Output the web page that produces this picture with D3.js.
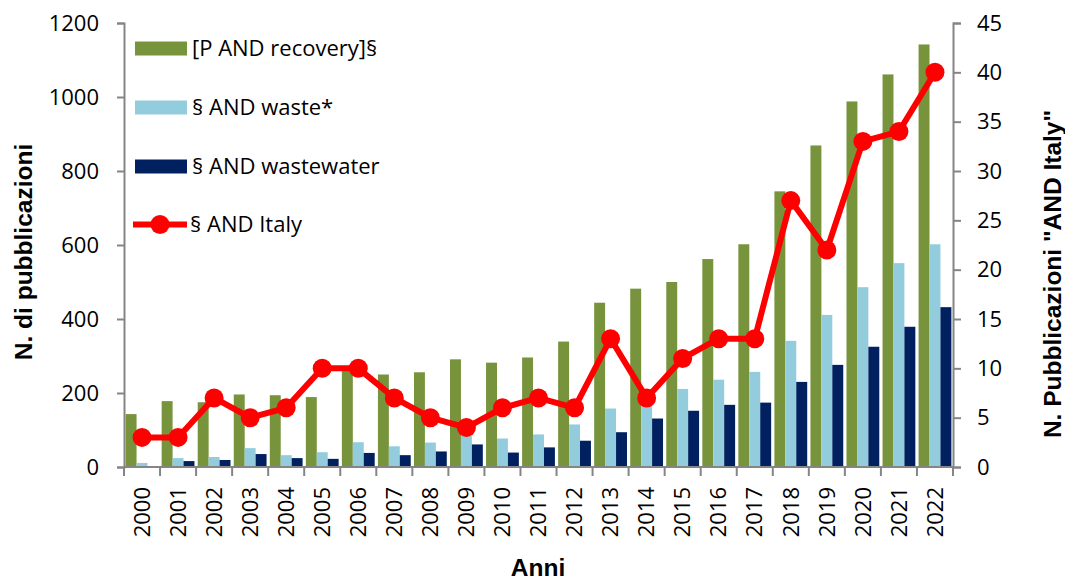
<!DOCTYPE html>
<html>
  <head>
    <meta charset="utf-8">
    <title>Pubblicazioni</title>
    <script src="https://d3js.org/d3.v7.min.js"></script>
    <style>
      body { margin: 0; background: #fff; }
      svg { font-family: "Open Sans", sans-serif; }
      .title { font-family: "Liberation Sans", Arial, sans-serif; font-weight: bold; font-size: 24.5px; }
    </style>
  </head>
  <body>
    <svg id="chart" width="1065" height="582"></svg>
    <script>
      // data
      var years = ["2000","2001","2002","2003","2004","2005","2006","2007","2008","2009","2010","2011",
                   "2012","2013","2014","2015","2016","2017","2018","2019","2020","2021","2022"];
      var recovery   = [143, 178, 175, 196, 194, 189, 262, 250, 256, 291, 282, 296, 339, 444, 482, 500, 562, 602, 745, 869, 988, 1061, 1142];
      var waste      = [11, 24, 27, 51, 32, 40, 67, 56, 66, 84, 77, 88, 115, 158, 172, 211, 236, 257, 341, 411, 486, 551, 602];
      var wastewater = [0, 16, 19, 35, 24, 22, 38, 32, 42, 61, 39, 53, 71, 94, 131, 152, 168, 174, 230, 276, 325, 379, 432];
      var italy      = [3, 3, 7, 5, 6, 10, 10, 7, 5, 4, 6, 7, 6, 13, 7, 11, 13, 13, 27, 22, 33, 34, 40];
      var seriesNames = ["[P AND recovery]§", "§ AND waste*", "§ AND wastewater", "§ AND Italy"];
      var colors = ["#77933c", "#93cddd", "#002060", "#ff0000"];

      var svg = d3.select("#chart");
      var pLeft = 124, pRight = 953, pTop = 23, pBottom = 467;
      var axisColor = "#858585";

      var x = d3.scaleBand().domain(years).range([pLeft, pRight]).paddingInner(0.09).paddingOuter(0.045);
      var x1 = d3.scaleBand().domain([0, 1, 2]).range([0, x.bandwidth()]);
      var y = d3.scaleLinear().domain([0, 1200]).range([pBottom, pTop]);
      var y2 = d3.scaleLinear().domain([0, 45]).range([pBottom, pTop]);

      var bars = [recovery, waste, wastewater];
      var g = svg.append("g");
      bars.forEach(function(vals, s) {
        g.selectAll("rect.s" + s)
          .data(vals)
          .join("rect")
          .attr("class", "s" + s)
          .attr("x", function(d, i) { return x(years[i]) + x1(s); })
          .attr("y", function(d) { return y(d); })
          .attr("width", x1.bandwidth())
          .attr("height", function(d) { return y(0) - y(d); })
          .attr("fill", colors[s]);
      });

      // axes
      var yAxis = svg.append("g")
        .attr("transform", "translate(" + pLeft + ",0)")
        .call(d3.axisLeft(y).tickValues(d3.range(0, 1201, 200)).tickFormat(d3.format("d"))
          .tickSize(7).tickPadding(18).tickSizeOuter(7));
      var yAxis2 = svg.append("g")
        .attr("transform", "translate(" + pRight + ",0)")
        .call(d3.axisRight(y2).tickValues(d3.range(0, 46, 5)).tickFormat(d3.format("d"))
          .tickSize(8).tickPadding(16).tickSizeOuter(8));
      [yAxis, yAxis2].forEach(function(a) {
        a.selectAll("text").attr("font-size", "22px").attr("font-family", "Open Sans").attr("fill", "#000");
        a.selectAll("line").attr("stroke", axisColor).attr("stroke-width", 2);
        a.select(".domain").attr("stroke", axisColor).attr("stroke-width", 2);
      });

      // x axis with ticks between categories
      var xg = svg.append("g");
      xg.append("line")
        .attr("x1", pLeft).attr("x2", pRight).attr("y1", pBottom).attr("y2", pBottom)
        .attr("stroke", axisColor).attr("stroke-width", 2);
      var step = x.step();
      xg.selectAll("line.tk")
        .data(d3.range(years.length + 1))
        .join("line")
        .attr("class", "tk")
        .attr("x1", function(i) { return pLeft + i * step; })
        .attr("x2", function(i) { return pLeft + i * step; })
        .attr("y1", pBottom).attr("y2", pBottom + 9)
        .attr("stroke", axisColor).attr("stroke-width", 2);
      xg.selectAll("text")
        .data(years)
        .join("text")
        .attr("transform", function(d) { return "translate(" + (x(d) + x.bandwidth() / 2) + "," + (pBottom + 20) + ") rotate(-90)"; })
        .attr("text-anchor", "end")
        .attr("dy", "0.35em")
        .attr("font-size", "22px")
        .text(function(d) { return d; });

      // line series on secondary axis
      var line = d3.line()
        .x(function(d, i) { return x(years[i]) + x.bandwidth() / 2; })
        .y(function(d) { return y2(d); });
      svg.append("path")
        .datum(italy)
        .attr("d", line)
        .attr("fill", "none")
        .attr("stroke", colors[3])
        .attr("stroke-width", 6)
        .attr("stroke-linejoin", "round");
      svg.selectAll("circle.pt")
        .data(italy)
        .join("circle")
        .attr("class", "pt")
        .attr("cx", function(d, i) { return x(years[i]) + x.bandwidth() / 2; })
        .attr("cy", function(d) { return y2(d); })
        .attr("r", 9.5)
        .attr("fill", colors[3]);

      // legend
      var lg = svg.append("g");
      var legY = [48.5, 107.5, 166.5, 224.5];
      [0, 1, 2].forEach(function(s) {
        lg.append("rect")
          .attr("x", 135).attr("y", legY[s] - 7)
          .attr("width", 52).attr("height", 14)
          .attr("fill", colors[s]);
      });
      lg.append("line")
        .attr("x1", 133).attr("x2", 187).attr("y1", legY[3]).attr("y2", legY[3])
        .attr("stroke", colors[3]).attr("stroke-width", 6);
      lg.append("circle").attr("cx", 160).attr("cy", legY[3]).attr("r", 9.5).attr("fill", colors[3]);
      lg.selectAll("text")
        .data(seriesNames)
        .join("text")
        .attr("x", function(d, i) { return i == 3 ? 190 : 192; })
        .attr("y", function(d, i) { return legY[i]; })
        .attr("dy", "0.35em")
        .attr("font-size", "22px")
        .text(function(d) { return d; });

      // axis titles
      svg.append("text").attr("class", "title")
        .attr("transform", "translate(32,252) rotate(-90)")
        .attr("text-anchor", "middle")
        .text("N. di pubblicazioni");
      svg.append("text").attr("class", "title")
        .attr("transform", "translate(1061,274) rotate(-90)")
        .attr("text-anchor", "middle")
        .text("N. Pubblicazioni \"AND Italy\"");
      svg.append("text").attr("class", "title")
        .attr("x", 538).attr("y", 576)
        .attr("text-anchor", "middle")
        .text("Anni");
    </script>
  </body>
</html>
